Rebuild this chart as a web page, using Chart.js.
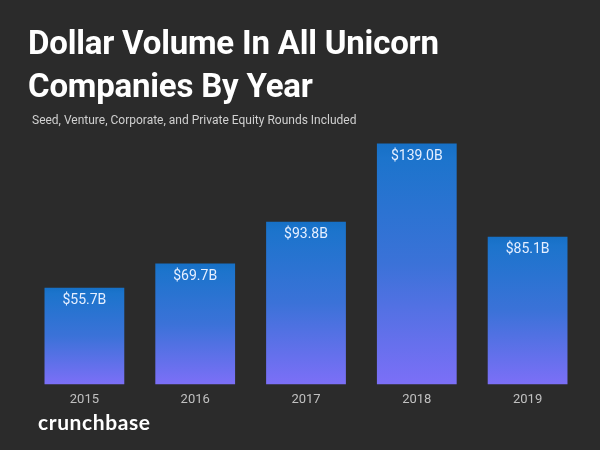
<!DOCTYPE html>
<html>
<head>
<meta charset="utf-8">
<script src="https://cdn.jsdelivr.net/npm/chart.js@4"></script>
<style>
  html, body { margin: 0; padding: 0; background: #2b2b2b; }
  #wrap { position: relative; width: 600px; height: 450px; background: #2b2b2b; overflow: hidden; }
  #title { position: absolute; left: 28px; top: 21px; color: #ffffff; font-family: Roboto, "Noto Sans", sans-serif; font-weight: 700; font-size: 33px; line-height: 43px; letter-spacing: -0.2px; }
  #subtitle { position: absolute; left: 32px; top: 113px; color: #d0d0d0; font-family: Roboto, sans-serif; font-size: 12px; }
  #logo { position: absolute; left: 38px; top: 409px; color: #ffffff; font-family: "Lato", "Open Sans", sans-serif; font-weight: 700; font-size: 21px; letter-spacing: 0.6px; }
  #c { position: absolute; left: 0; top: 0; }
</style>
</head>
<body>
<div id="wrap">
  <canvas id="c" width="600" height="450"></canvas>
  <div id="title">Dollar Volume In All Unicorn<br>Companies By Year</div>
  <div id="subtitle">Seed, Venture, Corporate, and Private Equity Rounds Included</div>
  <div id="logo">crunchbase</div>
</div>
<script>
const years = ["2015", "2016", "2017", "2018", "2019"];
const volumes = [55.7, 69.7, 93.8, 139.0, 85.1];
const valueLabels = ["$55.7B", "$69.7B", "$93.8B", "$139.0B", "$85.1B"];

function barGradient(ctx) {
  const chart = ctx.chart;
  if (!chart.chartArea || ctx.dataIndex === undefined) return '#3f72d8';
  const y = chart.scales.y;
  const top = y.getPixelForValue(volumes[ctx.dataIndex]);
  const bottom = y.getPixelForValue(0);
  const g = chart.ctx.createLinearGradient(0, top, 0, bottom);
  g.addColorStop(0, '#1670c6');
  g.addColorStop(0.06, '#1c74cc');
  g.addColorStop(0.5, '#3b72d8');
  g.addColorStop(1, '#7c6ff7');
  return g;
}

const labelPlugin = {
  id: 'valueLabels',
  afterDatasetsDraw(chart) {
    const c = chart.ctx;
    const meta = chart.getDatasetMeta(0);
    c.save();
    c.font = '14px Roboto, sans-serif';
    c.fillStyle = '#e6efff';
    c.textAlign = 'center';
    c.textBaseline = 'middle';
    meta.data.forEach((bar, i) => {
      c.fillText(valueLabels[i], bar.x, bar.y + 13);
    });
    c.restore();
  }
};

new Chart(document.getElementById('c'), {
  type: 'bar',
  data: {
    labels: years,
    datasets: [{
      data: volumes,
      backgroundColor: barGradient,
      borderWidth: 0,
      barPercentage: 0.72,
      categoryPercentage: 1.0
    }]
  },
  options: {
    responsive: false,
    animation: false,
    devicePixelRatio: 1,
    layout: { padding: { left: 29, right: 17, top: 107, bottom: 42 } },
    plugins: { legend: { display: false }, tooltip: { enabled: false } },
    scales: {
      x: {
        grid: { display: false },
        border: { display: false },
        ticks: { color: '#c0c0c0', font: { family: 'Roboto, sans-serif', size: 13 }, padding: 0 }
      },
      y: {
        display: false,
        min: 0,
        max: 160
      }
    }
  },
  plugins: [labelPlugin]
});
</script>
</body>
</html>
